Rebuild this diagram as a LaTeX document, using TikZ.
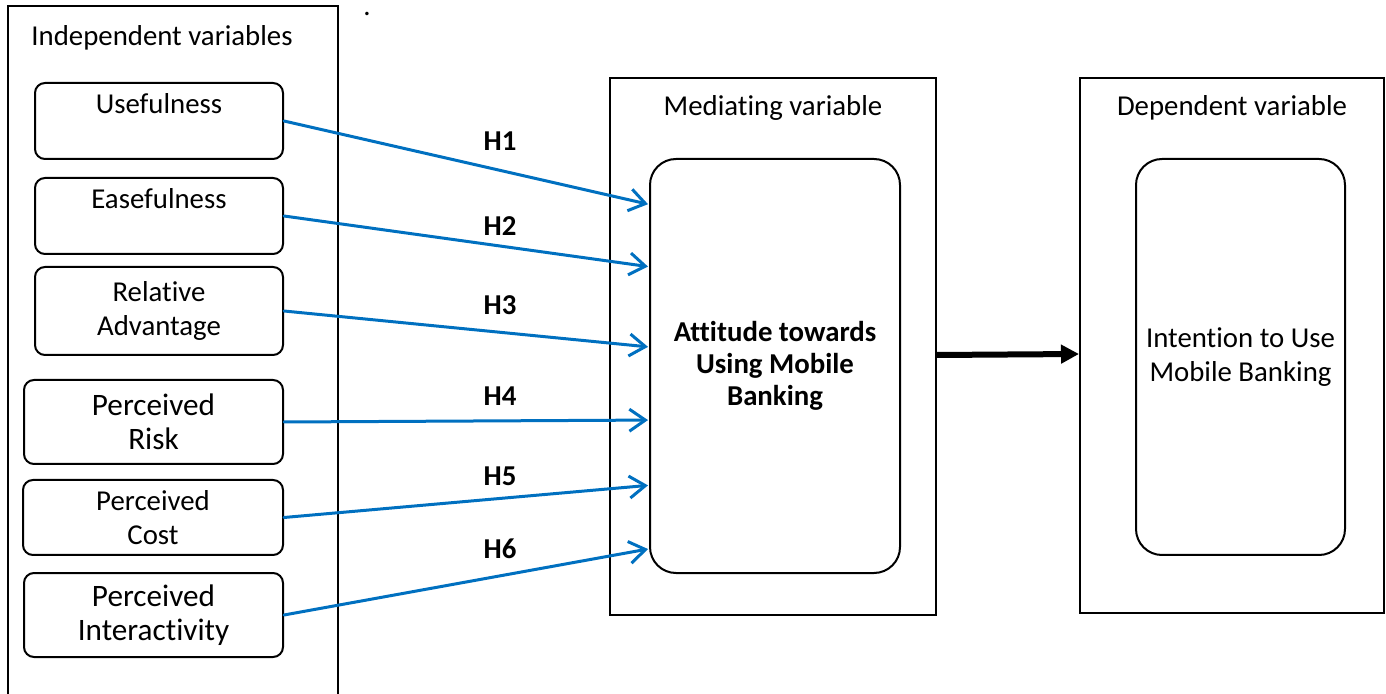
\documentclass[tikz,border=0pt]{standalone}
\usepackage{fontspec}
\setmainfont{Carlito}[Ligatures={NoCommon,NoRequired,NoContextual},Contextuals=NoAlternate]
\usetikzlibrary{arrows.meta,calc,positioning}
\definecolor{arrowblue}{RGB}{0,112,192}

\begin{document}
\begin{tikzpicture}[x=0.5pt,y=-0.5pt,line width=1pt,
    txt/.style={font=\fontsize{14.4}{17.3}\selectfont},
    big txt/.style={font=\fontsize{15.6}{17}\selectfont},
    group node/.style={draw,rectangle,inner sep=0pt},
    var node/.style={draw,rounded corners=5pt,align=center,inner sep=0pt,anchor=east},
    core node/.style={draw,rounded corners=13pt,align=center,inner sep=0pt},
    hyp/.style={-{Straight Barb[length=8pt,width=11pt]},line width=1.5pt,color=arrowblue,line cap=round},
    hyp label/.style={font=\fontsize{14.4}{17.3}\selectfont\bfseries}]

    \useasboundingbox (0,0) rectangle (1386,694);
    \clip (0,0) rectangle (1386,694);

    % the three groups
    \node (indep) [group node,minimum width=165pt,minimum height=360pt] at (173,366){};
    \node (med) [group node,minimum width=163pt,minimum height=268.5pt] at (773,346.5){};
    \node (dep) [group node,minimum width=152pt,minimum height=267.5pt] at (1232,345.5){};

    \node (indep title) [txt] at (162,38){Independent variables};
    \node (med title) [txt] at (773,108){Mediating variable};
    \node (dep title) [txt] at (1232,108){Dependent variable};
    \node (dot) [txt,anchor=base,inner sep=0pt] at (367,16){.};

    % independent variables
    \node (use) [var node,txt,minimum width=124pt,minimum height=38pt] at (284,121){Usefulness\\~};
    \node (ease) [var node,txt,minimum width=124pt,minimum height=38pt] at (284,216){Easefulness\\~};
    \node (rel) [var node,txt,minimum width=124pt,minimum height=44pt] at (284,311){Relative\\Advantage};
    \node (risk) [var node,big txt,minimum width=129.5pt,minimum height=42pt] at (284,422){Perceived\\Risk};
    \node (cost) [var node,txt,minimum width=130pt,minimum height=37.5pt] at (284,517.5){Perceived\\Cost};
    \node (inter) [var node,big txt,minimum width=129.5pt,minimum height=42pt] at (284,615){Perceived\\Interactivity};

    % mediating and dependent
    \node (att) [core node,txt,font=\fontsize{14.4}{16}\selectfont\bfseries,minimum width=125pt,minimum height=207pt] at (775,366){Attitude towards\\Using Mobile\\Banking};
    \node (int) [core node,txt,minimum width=104.5pt,minimum height=198pt] at (1240.5,357){Intention to Use\\Mobile Banking};

    \node (h1) [hyp label] at (500,141){H1};
    \node (h2) [hyp label] at (500,226){H2};
    \node (h3) [hyp label] at (500,305){H3};
    \node (h4) [hyp label] at (500,396){H4};
    \node (h5) [hyp label] at (500,476){H5};
    \node (h6) [hyp label] at (500,549){H6};

    \path[hyp]
        (use.east) edge ($(att.north west)!0.111!(att.south west)+(-1,0)$)
        (ease.east) edge ($(att.north west)!0.261!(att.south west)+(-1,0)$)
        (rel.east) edge ($(att.north west)!0.454!(att.south west)+(-1,0)$)
        (risk.east) edge ($(att.north west)!0.630!(att.south west)+(-1,0)$)
        (cost.east) edge ($(att.north west)!0.787!(att.south west)+(-1,0)$)
        (inter.east) edge ($(att.north west)!0.940!(att.south west)+(-1,0)$)
    ;

    \draw[line width=3pt,-{Triangle[length=9pt,width=9pt]}] ([yshift=-4.25pt]med.east) -- ([yshift=-4.25pt]dep.west);
\end{tikzpicture}
\end{document}
